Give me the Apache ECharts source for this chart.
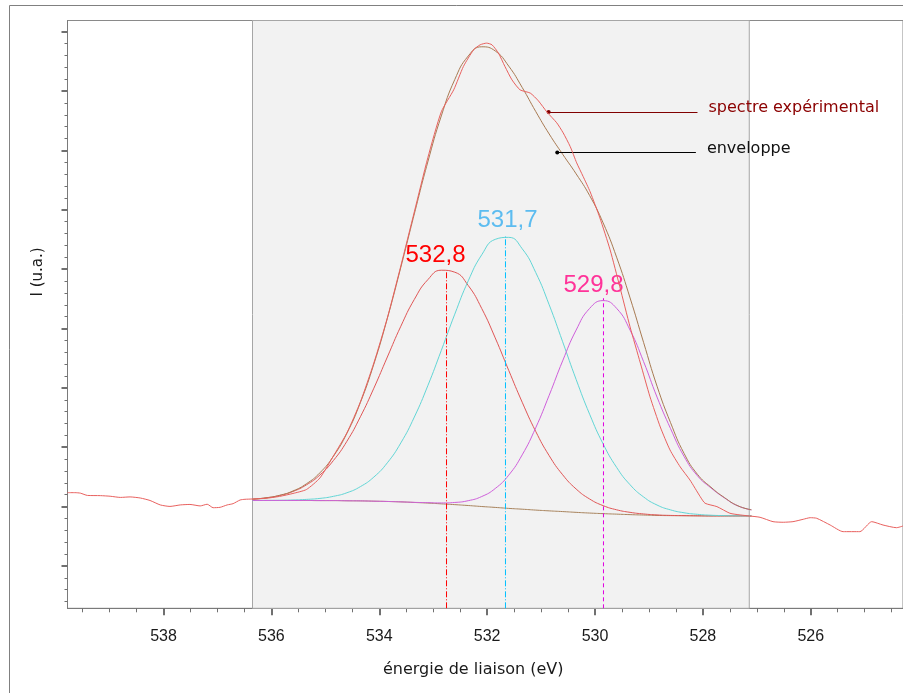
<!DOCTYPE html>
<html><head><meta charset="utf-8">
<script src="https://cdn.jsdelivr.net/npm/echarts@6/dist/echarts.min.js"></script>
<style>html,body{margin:0;padding:0;background:#fff}#c{width:903px;height:693px}</style>
</head><body><div id="c"></div>
<script>
// ---- data (intensity in arbitrary units) ----
const energies = [536.35,536.10,535.85,535.60,535.35,535.10,534.85,534.60,534.35,534.10,533.85,533.60,533.35,533.10,532.85,532.60,532.35,532.10,531.85,531.60,531.35,531.10,530.85,530.60,530.35,530.10,529.85,529.60,529.35,529.10,528.85,528.60,528.35,528.10,527.85,527.60,527.35,527.10];
const background = [66.2,66.2,66.2,66.2,66.2,66.1,66.1,65.9,65.8,65.5,65.2,64.8,64.2,63.6,62.8,62.0,61.1,60.1,59.2,58.2,57.4,56.5,55.7,55.0,54.2,53.5,52.9,52.4,51.9,51.5,51.1,50.9,50.8,50.7,50.6,50.6,50.6,50.6];
const peak1 = [67.5,68.8,71.2,75.3,82.0,92.0,106.6,126.0,150.8,179.7,211.2,242.3,269.4,289.3,298.9,296.9,283.4,260.2,230.5,197.7,165.5,136.1,111.5,92.2,77.8,67.7,61.0,56.8,54.2,52.6,51.6,51.1,50.9,50.7,50.6,50.6,50.6,50.6];
const peak2 = [66.2,66.3,66.4,66.7,67.3,68.3,70.4,74.0,80.2,89.9,104.3,124.4,150.5,182.2,217.8,254.5,288.2,314.5,330.1,332.1,320.6,296.7,264.0,226.6,188.5,153.4,123.4,99.7,82.1,69.8,61.6,56.7,53.8,52.2,51.3,50.9,50.7,50.7];
const peak3 = [66.2,66.2,66.2,66.2,66.2,66.1,66.1,65.9,65.8,65.5,65.2,64.8,64.3,64.0,63.7,64.2,66.0,70.2,78.3,91.8,112.3,139.6,172.5,207.3,238.4,260.3,268.2,260.4,238.4,206.6,170.7,138.9,110.8,91.1,78.9,68.8,60.7,56.7];
const envelope = [67.5,68.9,71.4,75.8,83.1,94.2,110.9,134.1,165.2,204.1,250.3,301.9,355.8,408.3,454.8,491.6,515.4,524.7,520.5,505.2,483.6,459.4,436.6,416.1,396.3,374.4,346.8,312.1,270.9,226.0,181.7,144.9,113.9,92.6,79.6,69.1,60.8,56.8];

const expEnergy = [539.78,539.64,539.54,539.41,539.17,538.99,538.80,538.62,538.43,538.25,538.06,537.88,537.69,537.51,537.32,537.19,537.08,536.95,536.82,536.71,536.58,536.49,536.35,536.10,535.85,535.60,535.35,535.10,534.85,534.60,534.35,534.10,533.85,533.60,533.35,533.10,532.85,532.62,532.44,532.25,532.13,532.01,531.91,531.79,531.67,531.54,531.39,531.20,531.05,530.89,530.71,530.59,530.46,530.34,530.22,530.09,529.91,529.72,529.54,529.35,529.16,528.98,528.79,528.61,528.42,528.24,528.05,527.96,527.74,527.50,527.31,527.13,526.94,526.70,526.51,526.33,526.14,526.01,525.89,525.64,525.40,525.09,524.87,524.66,524.41,524.29];
const expIntensity = [74.1,74.1,73.6,71.3,71.1,70.5,69.3,69.8,68.7,66.2,61.7,60.2,61.7,62.2,60.7,62.4,58.9,59.3,61.7,63.0,66.7,67.4,67.7,68.4,70.3,73.3,77.3,89.0,111.2,134.5,165.8,205.2,250.7,303.3,357.9,412.5,459.0,481.2,504.8,521.7,526.7,528.4,526.7,518.3,504.8,491.3,481.2,477.9,470.1,458.7,447.9,437.7,423.9,407.4,393.6,378.1,351.8,319.5,282.1,241.6,205.2,170.9,140.5,117.3,100.1,86.9,70.1,63.4,60.0,53.3,51.6,50.5,49.2,44.8,44.2,44.8,47.2,48.8,48.2,41.4,34.7,34.7,44.8,41.4,38.7,40.4];

const peakCenters = [532.753, 531.66, 529.843];
const peakTops = [297.5, 332.9, 270.6];
const peakLabels = ['532,8', '531,7', '529,8'];
const fitRegion = [536.35, 527.14];
const annotationTexts = ['spectre expérimental', 'enveloppe'];
const annotationStart = [[530.86, 458.7], [530.70, 417.8]];
const annotationEnd = [528.10, 528.13];

const xMajorTicks = [538, 536, 534, 532, 530, 528, 526];
const xMinorTicks = [539.5,539,538.5,537.5,537,536.5,535.5,535,534.5,533.5,533,532.5,531.5,531,530.5,529.5,529,528.5,527.5,527,526.5,525.5,525,524.5];
const yMajorTicks = [0,60,120,180,240,300,360,420,480,540];
const yMinorTicks = [-36,-24,-12,12,24,36,48,72,84,96,108,132,144,156,168,192,204,216,228,252,264,276,288,312,324,336,348,372,384,396,408,432,444,456,468,492,504,516,528];

const X_MIN = 524.29, X_MAX = 539.78, Y_MIN = -42.76, Y_MAX = 551.27;

function pairs(xs, ys) { return xs.map((x, i) => [x, ys[i]]); }

const chart = echarts.init(document.getElementById('c'), null, {renderer: 'canvas'});

const tickColor = '#707070';

function peakSeries(name, vals, color) {
  return {
    name: name, type: 'line', data: pairs(energies, vals), smooth: true, symbol: 'none',
    color: color, lineStyle: {color: color, width: 1}, z: 3, silent: true
  };
}

// vertical marker from the x axis to the top of a component, with its position label
function dropLine(idx, dashColor, dashType, labelColor, offX, offY) {
  return {
    name: 'pos' + idx, type: 'line', silent: true, z: 4,
    data: [[peakCenters[idx], Y_MIN], [peakCenters[idx], peakTops[idx]]],
    symbol: 'none', color: dashColor,
    lineStyle: {color: dashColor, width: 1, type: dashType},
    endLabel: {show: true, formatter: peakLabels[idx], color: labelColor,
               fontFamily: 'Liberation Sans', fontSize: 24, align: 'center', verticalAlign: 'bottom',
               distance: 0, offset: [offX, offY]}
  };
}

function annotation(i, color, textColor) {
  return {
    silent: true, animation: false,
    symbol: ['circle', 'none'], symbolSize: 4,
    itemStyle: {color: color},
    lineStyle: {color: color, width: 1, type: 'solid'},
    label: {show: true, position: 'end', formatter: annotationTexts[i], color: textColor,
            fontFamily: 'DejaVu Sans', fontSize: 16, distance: 11, offset: [0, -4]},
    data: [[{coord: annotationStart[i]}, {coord: [annotationEnd[i], annotationStart[i][1]]}]]
  };
}

const option = {
  animation: false,
  backgroundColor: '#ffffff',
  grid: {left: 67.5, right: 0, top: 20.5, bottom: 84.7, show: true, borderColor: '#8a8a8a', borderWidth: 1, backgroundColor: 'transparent'},
  xAxis: [
    {type: 'value', min: X_MIN, max: X_MAX, inverse: true, position: 'bottom',
     axisLine: {show: true, onZero: false, lineStyle: {color: '#7a7a7a', width: 1}},
     axisTick: {show: true, customValues: xMajorTicks, length: 7, lineStyle: {color: tickColor, width: 2}},
     axisLabel: {show: true, customValues: xMajorTicks, margin: 20, fontFamily: 'Liberation Sans', fontSize: 16, color: '#1a1a1a'},
     splitLine: {show: false},
     name: 'énergie de liaison (eV)', nameLocation: 'middle', nameGap: 54,
     nameTextStyle: {fontFamily: 'DejaVu Sans', fontSize: 16, color: '#1a1a1a', padding: [0, 24, 0, 0]}},
    {type: 'value', min: X_MIN, max: X_MAX, inverse: true, position: 'bottom',
     axisLine: {show: false, onZero: false},
     axisTick: {show: true, customValues: xMinorTicks, length: 4, lineStyle: {color: tickColor, width: 1}},
     axisLabel: {show: false}, splitLine: {show: false}}
  ],
  yAxis: [
    {type: 'value', min: Y_MIN, max: Y_MAX, position: 'left',
     axisLine: {show: true, onZero: false, lineStyle: {color: '#7a7a7a', width: 1}},
     axisTick: {show: true, customValues: yMajorTicks, length: 6, lineStyle: {color: tickColor, width: 2}},
     axisLabel: {show: false}, splitLine: {show: false}},
    {type: 'value', min: Y_MIN, max: Y_MAX, position: 'left',
     axisLine: {show: false, onZero: false},
     axisTick: {show: true, customValues: yMinorTicks, length: 3, lineStyle: {color: tickColor, width: 1}},
     axisLabel: {show: false}, splitLine: {show: false}}
  ],
  graphic: [
    {type: 'line', shape: {x1: 9.5, y1: 5.5, x2: 903, y2: 5.5}, style: {stroke: '#808080', lineWidth: 1}, silent: true},
    {type: 'line', shape: {x1: 9.5, y1: 5.5, x2: 9.5, y2: 693}, style: {stroke: '#808080', lineWidth: 1}, silent: true},
    {type: 'text', x: 38, y: 272, rotation: Math.PI / 2, silent: true,
     style: {text: 'I (u.a.)', fontFamily: 'DejaVu Sans', fontSize: 15, fill: '#1a1a1a', align: 'center', verticalAlign: 'middle'}}
  ],
  series: [
    {name: 'region', type: 'line', data: [], z: 1, silent: true,
     markArea: {silent: true, itemStyle: {color: '#f2f2f2', borderColor: '#a6a6a6', borderWidth: 1},
                data: [[{xAxis: fitRegion[0]}, {xAxis: fitRegion[1]}]]}},
    {name: 'fond', type: 'line', data: pairs(energies, background), smooth: true, symbol: 'none',
     color: '#a8835c', lineStyle: {color: '#a8835c', width: 1}, z: 3, silent: true},
    peakSeries('c1', peak1, '#e05656'),
    peakSeries('c2', peak2, '#62d6d6'),
    peakSeries('c3', peak3, '#cf5fdb'),
    dropLine(0, '#ff0000', [6, 2, 1, 2], '#ff0000', -11, -4),
    dropLine(1, '#00c0ff', [6, 2, 1, 2], '#5cbcf0', 2, -4),
    dropLine(2, '#e000e0', [4, 3], '#ff3399', -10, -1),
    {name: 'enveloppe', type: 'line', data: pairs(energies, envelope), smooth: true, symbol: 'none',
     color: '#a87a52', lineStyle: {color: '#a87a52', width: 1}, z: 4, silent: true,
     markLine: annotation(1, '#000000', '#111111')},
    {name: 'spectre', type: 'line', data: pairs(expEnergy, expIntensity), smooth: 0.2, symbol: 'none',
     color: '#e8605e', lineStyle: {color: '#e8605e', width: 1}, z: 5, silent: true,
     markLine: annotation(0, '#800000', '#8b0000')}
  ]
};
chart.setOption(option);
</script>
</body></html>
